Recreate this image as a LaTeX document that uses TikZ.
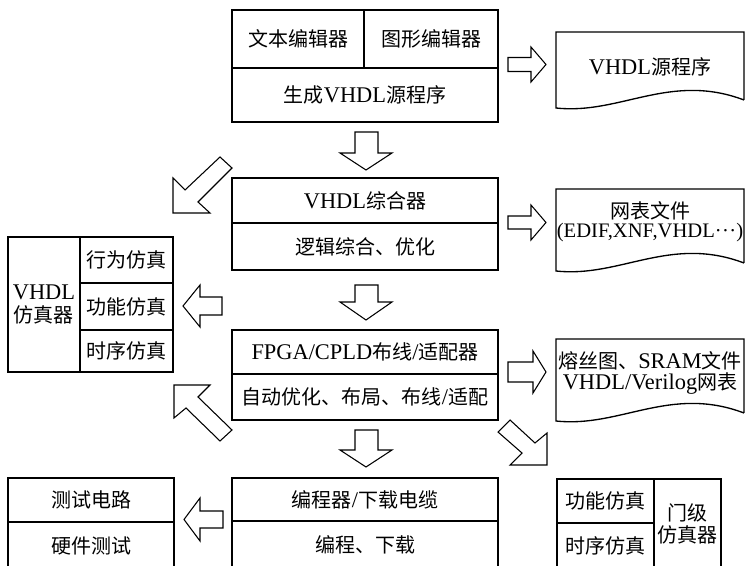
\documentclass[tikz,border=0pt]{standalone}
\usepackage{fontspec}
\setmainfont{Noto Sans CJK SC}
\newfontfamily\lat[Scale=1.12]{Liberation Serif}
\begin{document}
\begin{tikzpicture}[x=0.75pt,y=-0.75pt,
  cell/.style={draw, line width=1pt, rectangle, inner sep=0pt, outer sep=0pt, align=center,
    font=\fontsize{15pt}{18pt}\selectfont},
  lbl/.style={inner sep=0pt, align=center, font=\fontsize{15pt}{18pt}\selectfont},
  blk/.style={draw, line width=0.8pt, line join=miter},
  docshape/.style={draw, line width=1pt, line join=miter}]
\useasboundingbox[fill=white] (0,0) rectangle (746,566);

% top box
\node[cell, minimum width=99pt, minimum height=43.5pt] (a1) at (298,39) {文本编辑器};
\node[cell, minimum width=100.5pt, minimum height=43.5pt] (a2) at (431,39) {图形编辑器};
\node[cell, minimum width=199.5pt, minimum height=40.5pt] (a3) at (365,95) {生成{\lat VHDL}源程序};

% synthesis box
\node[cell, minimum width=199.5pt, minimum height=33.75pt] (b1) at (365,200.5) {{\lat VHDL}综合器};
\node[cell, minimum width=199.5pt, minimum height=35.25pt] (b2) at (365,246.5) {逻辑综合、优化};

% fitter box
\node[cell, minimum width=199.5pt, minimum height=33pt] (c1) at (365,352) {{\lat FPGA/CPLD}布线{\lat /}适配器};
\node[cell, minimum width=199.5pt, minimum height=34.5pt] (c2) at (365,397) {自动优化、布局、布线{\lat /}适配};

% programmer box
\node[cell, minimum width=199.5pt, minimum height=32.25pt] (p1) at (365,499.5) {编程器{\lat /}下载电缆};
\node[cell, minimum width=199.5pt, minimum height=36pt] (p2) at (365,545) {编程、下载};

% VHDL simulator
\node[cell, minimum width=54pt, minimum height=101.25pt, font=\fontsize{15pt}{17pt}\selectfont] (e1) at (44,304.5) {{\lat VHDL}\\仿真器};
\node[cell, minimum width=69.75pt, minimum height=34.5pt] (e2) at (126.5,260) {行为仿真};
\node[cell, minimum width=69.75pt, minimum height=35.25pt] (e3) at (126.5,306.5) {功能仿真};
\node[cell, minimum width=69.75pt, minimum height=31.5pt] (e4) at (126.5,351) {时序仿真};

% test box
\node[cell, minimum width=124.5pt, minimum height=33pt] (f1) at (91,500) {测试电路};
\node[cell, minimum width=124.5pt, minimum height=35.25pt] (f2) at (91,545.5) {硬件测试};

% gate-level simulator
\node[cell, minimum width=72.75pt, minimum height=33pt] (g1) at (605.5,501) {功能仿真};
\node[cell, minimum width=72.75pt, minimum height=34.5pt] (g2) at (605.5,546) {时序仿真};
\node[cell, minimum width=50.25pt, minimum height=67.5pt, font=\fontsize{15pt}{16.5pt}\selectfont] (g3) at (687.5,524) {门级\\仿真器};

% documents
\draw[docshape] (744,100) -- (744,32) -- (556,32) -- (556,108) .. controls (620,115) and (670,72) .. (744,100);
\node[lbl] (d1) at (650,67) {{\lat VHDL}源程序};

\draw[docshape] (744,263) -- (744,189) -- (556,189) -- (556,271) .. controls (620,278) and (670,235) .. (744,263);
\node[lbl, font=\fontsize{15pt}{14pt}\selectfont] (d2) at (650,222) {网表文件\\{\fontsize{13.8pt}{14pt}\selectfont\lat (EDIF,XNF,VHDL·\kern0.3pt·\kern0.3pt·)}};

\draw[docshape] (744,413) -- (744,339) -- (556,339) -- (556,421) .. controls (620,428) and (670,385) .. (744,413);
\node[lbl, font=\fontsize{15pt}{16pt}\selectfont] (d3) at (650,373) {熔丝图、{\lat SRAM}文件\\{\lat VHDL/Verilog}网表};

% right arrows
\draw[blk] (508,57.5) -- (531,57.5) -- (531,47) -- (546,64.5) -- (531,82) -- (531,71.5) -- (508,71.5) -- cycle;
\draw[blk] (508,216) -- (531,216) -- (531,205) -- (546,222.5) -- (531,240) -- (531,229) -- (508,229) -- cycle;
\draw[blk] (508,362) -- (533,362) -- (533,351) -- (546,372) -- (533,393) -- (533,382) -- (508,382) -- cycle;

% left arrows
\draw[blk] (222,297) -- (200,297) -- (200,285) -- (183,306) -- (200,327) -- (200,315) -- (222,315) -- cycle;
\draw[blk] (223,511) -- (200,511) -- (200,498) -- (184,519.5) -- (200,541) -- (200,528) -- (223,528) -- cycle;

% down arrows
\draw[blk] (355,132) -- (378,132) -- (378,153) -- (392,153) -- (366,170) -- (340,153) -- (355,153) -- cycle;
\draw[blk] (355,285) -- (378,285) -- (378,302) -- (392,302) -- (366,320) -- (340,302) -- (355,302) -- cycle;
\draw[blk] (355,430) -- (378,430) -- (378,450) -- (392,450) -- (366,467) -- (340,450) -- (355,450) -- cycle;

% diagonal arrows
\draw[blk] (232,168) -- (198,202) -- (210,213) -- (173,213) -- (173,178) -- (185,190) -- (220,157) -- cycle;
\draw[blk] (220,441) -- (186,408) -- (174,418) -- (174,385) -- (210,385) -- (198,397) -- (232,430) -- cycle;
\draw[blk] (510,420) -- (535,443) -- (547,433) -- (547,465) -- (510,465) -- (522,453) -- (498,432) -- cycle;
\end{tikzpicture}
\end{document}
